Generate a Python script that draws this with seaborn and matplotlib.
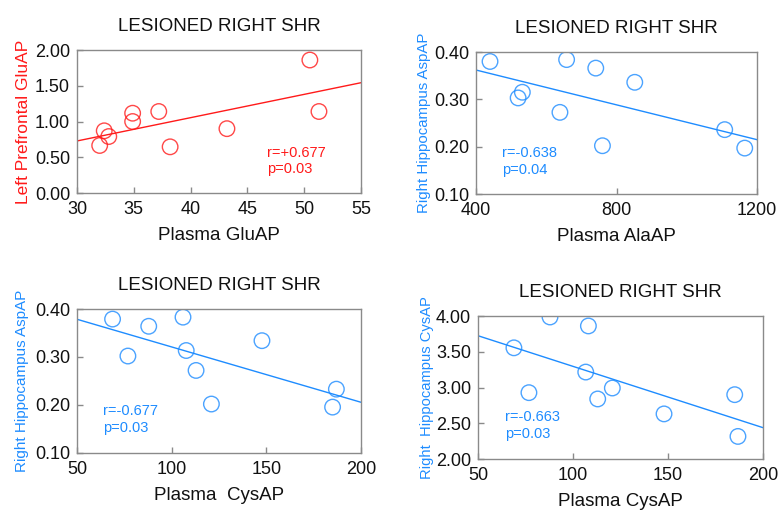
import matplotlib
matplotlib.use("Agg")
import matplotlib.pyplot as plt
import seaborn as sns
import numpy as np
import pandas as pd

sns.set_style("ticks")
plt.rcParams['font.family'] = ['Liberation Sans', 'DejaVu Sans']

RED = "#ff1a1a"
BLUE = "#1e8cff"
TITLE = "LESIONED RIGHT SHR"

# Panel 1
p1_x = [32.0, 32.4, 32.8, 34.9, 34.9, 37.2, 38.2, 43.2, 50.5, 51.3]
p1_y = [0.665, 0.87, 0.79, 1.116, 1.00, 1.14, 0.646, 0.90, 1.86, 1.14]
# Panel 2
p2_x = [440, 520, 532, 639, 658, 741, 760, 852, 1108, 1165]
p2_y = [0.380, 0.303, 0.315, 0.2725, 0.384, 0.366, 0.202, 0.336, 0.236, 0.197]
# Panel 3
p3_x = [68.8, 76.9, 87.9, 106.0, 107.7, 112.9, 121.0, 147.7, 185.0, 187.0]
p3_y = [0.379, 0.302, 0.364, 0.383, 0.3135, 0.272, 0.202, 0.334, 0.1956, 0.233]
# Panel 4
p4_x = [68.9, 76.8, 87.9, 106.7, 108.1, 113.0, 120.7, 147.9, 185.1, 186.8]
p4_y = [3.555, 2.928, 3.986, 3.216, 3.861, 2.84, 2.993, 2.631, 2.90, 2.316]

panels = [
    dict(x=p1_x, y=p1_y, xlabel="Plasma GluAP", ylabel="Left Prefrontal GluAP",
         xlim=(30, 55), ylim=(0, 2), xticks=[30, 35, 40, 45, 50, 55],
         yticks=[0, 0.5, 1.0, 1.5, 2.0], color=RED, text="r=+0.677\np=0.03",
         tpos=(0.669, 0.33), rect=[0.0988, 0.6252, 0.3646, 0.2777], ylfs=12.5, ylpad=2.5),
    dict(x=p2_x, y=p2_y, xlabel="Plasma AlaAP", ylabel="Right Hippocampus AspAP",
         xlim=(400, 1200), ylim=(0.1, 0.4), xticks=[400, 800, 1200],
         yticks=[0.1, 0.2, 0.3, 0.4], color=BLUE, text="r=-0.638\np=0.04",
         tpos=(0.093, 0.335), rect=[0.611, 0.6233, 0.3608, 0.2757], ylfs=10.8, ylpad=2),
    dict(x=p3_x, y=p3_y, xlabel="Plasma  CysAP", ylabel="Right Hippocampus AspAP",
         xlim=(50, 200), ylim=(0.1, 0.4), xticks=[50, 100, 150, 200],
         yticks=[0.1, 0.2, 0.3, 0.4], color=BLUE, text="r=-0.677\np=0.03",
         tpos=(0.092, 0.337), rect=[0.0988, 0.1204, 0.3646, 0.2796], ylfs=11, ylpad=4),
    dict(x=p4_x, y=p4_y, xlabel="Plasma CysAP", ylabel="Right  Hippocampus CysAP",
         xlim=(50, 200), ylim=(2, 4), xticks=[50, 100, 150, 200],
         yticks=[2.0, 2.5, 3.0, 3.5, 4.0], color=BLUE, text="r=-0.663\np=0.03",
         tpos=(0.095, 0.34), rect=[0.6136, 0.1087, 0.3659, 0.2777], ylfs=10.6, ylpad=1.5),
]

fig = plt.figure(figsize=(7.79, 5.15), dpi=100)
for p in panels:
    ax = fig.add_axes(p["rect"])
    ax.set_xlim(*p["xlim"])
    ax.set_ylim(*p["ylim"])
    df = pd.DataFrame({"x": p["x"], "y": p["y"]})
    sns.regplot(data=df, x="x", y="y", ax=ax, ci=None, truncate=False,
                color=p["color"],
                scatter_kws=dict(s=125, facecolors="none", edgecolors=p["color"], linewidths=1.0),
                line_kws=dict(linewidth=1.0))
    ax.set_xlim(*p["xlim"])
    ax.set_ylim(*p["ylim"])
    ax.set_xticks(p["xticks"])
    ax.set_xticklabels([str(v) for v in p["xticks"]])
    ax.set_yticks(p["yticks"])
    ax.set_yticklabels([f"{v:.2f}" for v in p["yticks"]])
    for s in ax.spines.values():
        s.set_visible(True)
        s.set_color("#8a8a8a")
        s.set_linewidth(1.0)
    ax.tick_params(direction="in", length=4, width=1, color="#8a8a8a",
                   labelsize=13, labelcolor="#111111", pad=5)
    ax.tick_params(axis="x", pad=6)
    ax.set_xlabel(p["xlabel"], fontsize=13.5, color="#111111", labelpad=6)
    ax.set_ylabel(p["ylabel"], fontsize=p["ylfs"], color=p["color"], labelpad=p["ylpad"])
    ax.set_title(TITLE, fontsize=13.5, color="#111111", pad=14)
    ax.text(p["tpos"][0], p["tpos"][1], p["text"], transform=ax.transAxes,
            fontsize=10.5, color=p["color"], va="top", ha="left", linespacing=1.2)

fig.savefig("out.png", dpi=100)
